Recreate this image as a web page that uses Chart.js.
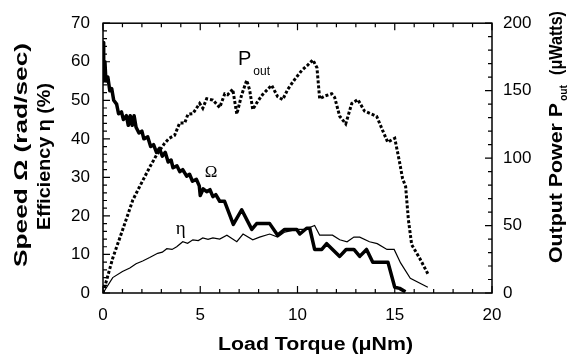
<!DOCTYPE html>
<html>
<head>
<meta charset="utf-8">
<script src="https://cdn.jsdelivr.net/npm/chart.js@4.4.1/dist/chart.umd.min.js"></script>
<style>
  html, body { margin: 0; padding: 0; background: #fff; }
  #wrap { width: 572px; height: 358px; }
</style>
</head>
<body>
<div id="wrap"><canvas id="c" width="572" height="358"></canvas></div>
<script>
// 1. data
const omegaTorque = [0, 0.02, 0.05, 0.1, 0.15, 0.25, 0.35, 0.45, 0.55, 0.7, 0.8, 0.95, 1.05, 1.2, 1.3, 1.4, 1.5, 1.6, 1.7, 1.85, 2.0,
  2.1, 2.3, 2.45, 2.6, 2.75, 2.9, 3.05, 3.2, 3.35, 3.5, 3.6, 3.8, 3.95, 4.1, 4.3, 4.45, 4.6, 4.8, 4.95, 5.0,
  5.15, 5.33, 5.5, 5.65, 5.8, 6.0, 6.25, 6.7, 7.13, 7.65, 7.9, 8.57, 8.98, 9.34, 9.96, 10.12, 10.47, 10.63, 10.88, 11.25,
  11.5, 12.17, 12.5, 12.9, 13.2, 13.55, 13.87, 14.65, 15.0, 15.25, 15.55];
const omega = [65, 55, 58, 60, 55, 56, 52.5, 53, 50, 49, 46.5, 47, 45, 46, 43.5, 46, 43.5, 46, 43, 41.5, 42,
  40, 40.5, 38, 38.5, 36.5, 37.5, 35.5, 36.5, 34, 34.5, 32.5, 33, 31.5, 32, 30.3, 30.8, 29, 29.5, 27.8, 25.3,
  27, 26.3, 26.8, 25, 25.5, 23.8, 23.8, 17.8, 21.6, 16.5, 18, 18, 15, 16.5, 16.5, 15.3, 16.8, 16.8, 11.3, 11.3,
  12.8, 9.5, 11.3, 11.3, 9.5, 11.3, 8, 8, 1.5, 1.2, 0.3];

const etaTorque = [0, 0.5, 1.0, 1.38, 1.7, 2.04, 2.4, 2.81, 3.05, 3.28, 3.55, 3.79, 4.1, 4.35, 4.62, 4.9, 5.13, 5.4, 5.65, 6.0,
  6.37, 6.88, 7.2, 7.7, 8.05, 8.57, 8.98, 9.34, 9.96, 10.4, 10.88, 11.14, 11.8, 12.17, 12.55, 12.9, 13.2, 13.7, 14.1, 14.6,
  14.97, 15.3, 15.8, 16.7];
const eta = [0, 4, 5.6, 6.5, 7.6, 8.3, 9.2, 10.3, 10.6, 11.5, 11.3, 12, 13.3, 12.9, 13.8, 13.6, 14.3, 13.9, 14.3, 14,
  15, 13.3, 15.3, 13.8, 14.5, 15.3, 14.5, 15.8, 16.5, 16.5, 17.5, 15, 15, 13.8, 13.3, 14.5, 14.5, 13.3, 12.8, 11.3,
  11.3, 7.8, 3.8, 1.5];

const powerTorque = [0, 0.5, 1.02, 1.53, 1.78, 2.14, 2.4, 2.76, 3.17, 3.4, 3.68, 3.94, 4.2, 4.37, 4.62, 4.97, 5.13, 5.33, 5.65, 6.0,
  6.26, 6.41, 6.67, 6.88, 7.13, 7.39, 7.54, 7.7, 7.95, 8.2, 8.67, 8.98, 9.24, 9.5, 9.86, 10.22, 10.53, 10.79, 11.0, 11.14,
  11.4, 11.76, 11.91, 12.17, 12.48, 12.79, 13.1, 13.45, 14.07, 14.38, 14.64, 15.0, 15.25, 15.4, 15.56, 15.7, 15.87, 16.28, 16.7];
const power = [0, 25.8, 47.3, 68.8, 76, 86, 93.2, 102.5, 111, 114.7, 116.8, 126, 126, 132.6, 133, 140.5, 137, 144, 143, 137.5,
  147.7, 147, 151, 132.6, 147, 157.7, 150.5, 136, 142, 147, 154, 145.5, 143.4, 151, 158.4, 165, 169, 172.8, 167, 144,
  146, 147.7, 145, 131, 125.4, 140.5, 143.4, 134.8, 131, 120.4, 111.8, 114.7, 96.8, 85, 78.9, 54.5, 35.8, 25.8, 14.3];

const xTicks = [0, 5, 10, 15, 20];
const leftTicks = [0, 10, 20, 30, 40, 50, 60, 70];
const rightTicks = [0, 50, 100, 150, 200];

// curve labels, in data units (left axis)
const curveLabels = [
  { text: 'P', sub: 'out', x: 6.94, y: 59.1, font: '20px "Liberation Sans", Arial, sans-serif' },
  { text: 'Ω', x: 5.23, y: 30.1, font: '17px "Liberation Serif", "Times New Roman", serif' },
  { text: 'η', x: 3.74, y: 15.3, font: '19px "Liberation Serif", "Times New Roman", serif' }
];

const SANS = '"Liberation Sans", Arial, Helvetica, sans-serif';

function pts(xs, ys) { return xs.map((x, i) => ({ x: x, y: ys[i] })); }

// 2. text helpers (rotated titles are stretched to the reference length)
function rotText(ctx, parts, baseX, startY) {
  ctx.save();
  ctx.translate(baseX, startY);
  ctx.rotate(-Math.PI / 2);
  ctx.textAlign = 'left';
  ctx.textBaseline = 'alphabetic';
  parts.forEach(p => {
    ctx.save();
    ctx.font = p.font;
    const w = ctx.measureText(p.text).width;
    ctx.translate(p.at, p.dy || 0);
    ctx.scale(p.len / w, 1);
    ctx.fillText(p.text, 0, 0);
    ctx.restore();
  });
  ctx.restore();
}

// 3. frame, inward ticks, titles and curve labels
const decorPlugin = {
  id: 'decor',
  afterDraw(chart) {
    const ctx = chart.ctx;
    const { left, right, top, bottom } = chart.chartArea;
    const xs = chart.scales.x, ys = chart.scales.y, y2 = chart.scales.y1;
    ctx.save();
    ctx.strokeStyle = '#000';
    ctx.fillStyle = '#000';
    ctx.lineWidth = 1.5;
    ctx.strokeRect(left, top, right - left, bottom - top);

    ctx.lineWidth = 1.2;
    ctx.beginPath();
    for (let v = 0; v <= 20; v++) {
      const px = xs.getPixelForValue(v);
      const len = v % 5 === 0 ? 7 : 4;
      ctx.moveTo(px, bottom); ctx.lineTo(px, bottom - len);
      ctx.moveTo(px, top); ctx.lineTo(px, top + len);
    }
    for (let v = 0; v <= 70; v += 2) {
      const py = ys.getPixelForValue(v);
      ctx.moveTo(left, py); ctx.lineTo(left + (v % 10 === 0 ? 7 : 4), py);
    }
    for (let v = 0; v <= 200; v += 10) {
      const py = y2.getPixelForValue(v);
      ctx.moveTo(right, py); ctx.lineTo(right - (v % 50 === 0 ? 7 : 4), py);
    }
    ctx.stroke();

    // axis titles
    const bold = 'bold 18px ' + SANS;
    rotText(ctx, [{ text: 'Speed Ω (rad/sec)', font: bold, at: 0, len: 224 }], 27, 267);
    rotText(ctx, [{ text: 'Efficiency η (%)', font: bold, at: 0, len: 147 }], 50, 230);
    rotText(ctx, [
      { text: 'Output Power P', font: bold, at: 0, len: 160 },
      { text: 'out', font: 'bold 11px ' + SANS, at: 162, len: 16, dy: 5 },
      { text: '(μWatts)', font: bold, at: 188, len: 64 }
    ], 562, 263);

    ctx.save();
    ctx.font = bold;
    const t = 'Load Torque (μNm)';
    const w = ctx.measureText(t).width;
    ctx.translate(218, 350);
    ctx.scale(195 / w, 1);
    ctx.textBaseline = 'alphabetic';
    ctx.fillText(t, 0, 0);
    ctx.restore();

    // curve labels
    curveLabels.forEach(l => {
      const px = xs.getPixelForValue(l.x), py = ys.getPixelForValue(l.y);
      ctx.font = l.font;
      ctx.textBaseline = 'alphabetic';
      ctx.fillText(l.text, px, py);
      if (l.sub) {
        const w2 = ctx.measureText(l.text).width;
        ctx.font = '12px ' + SANS;
        ctx.fillText(l.sub, px + w2 + 2, py + 10);
      }
    });
    ctx.restore();
  }
};

// 4. chart
const tickFont = { family: SANS, size: 17 };

new Chart(document.getElementById('c').getContext('2d'), {
  type: 'line',
  data: {
    datasets: [
      {
        data: pts(powerTorque, power), yAxisID: 'y1',
        borderColor: '#000', borderWidth: 3, borderDash: [3, 2], borderCapStyle: 'butt',
        pointRadius: 0, tension: 0, fill: false
      },
      {
        data: pts(omegaTorque, omega), yAxisID: 'y',
        borderColor: '#000', borderWidth: 3.5, borderJoinStyle: 'round',
        pointRadius: 0, tension: 0, fill: false
      },
      {
        data: pts(etaTorque, eta), yAxisID: 'y',
        borderColor: '#000', borderWidth: 1.2,
        pointRadius: 0, tension: 0, fill: false
      }
    ]
  },
  options: {
    responsive: false,
    animation: false,
    layout: { padding: { top: 14, left: 0, right: 0, bottom: 0 } },
    plugins: { legend: { display: false }, tooltip: { enabled: false } },
    scales: {
      x: {
        type: 'linear', min: 0, max: 20,
        afterBuildTicks: s => { s.ticks = xTicks.map(v => ({ value: v })); },
        ticks: { font: tickFont, color: '#000', padding: 12, maxRotation: 0 },
        grid: { display: false, drawTicks: false },
        border: { display: false },
        afterFit: s => { s.height = 65; }
      },
      y: {
        position: 'left', min: 0, max: 70,
        afterBuildTicks: s => { s.ticks = leftTicks.map(v => ({ value: v })); },
        ticks: { font: tickFont, color: '#000', padding: 13 },
        grid: { display: false, drawTicks: false },
        border: { display: false },
        afterFit: s => { s.width = 103; }
      },
      y1: {
        position: 'right', min: 0, max: 200,
        afterBuildTicks: s => { s.ticks = rightTicks.map(v => ({ value: v })); },
        ticks: { font: tickFont, color: '#000', padding: 11 },
        grid: { display: false, drawTicks: false },
        border: { display: false },
        afterFit: s => { s.width = 80; }
      }
    }
  },
  plugins: [decorPlugin]
});
</script>
</body>
</html>
